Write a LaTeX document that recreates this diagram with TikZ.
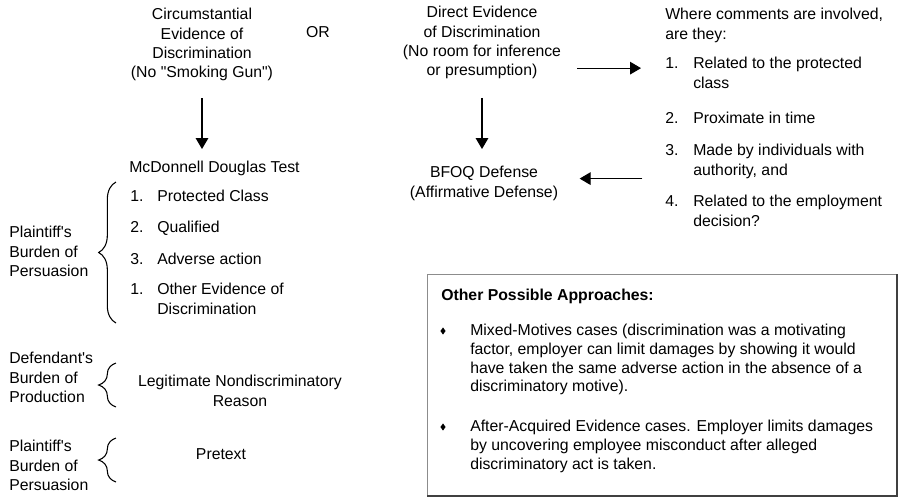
\documentclass[tikz,border=0pt]{standalone}
\usepackage{fontspec}
\setmainfont{Liberation Sans}
\usetikzlibrary{arrows.meta,decorations.pathreplacing,shapes.geometric}

\begin{document}
\begin{tikzpicture}[x=0.75pt,y=-0.75pt,
    every node/.style={inner sep=0pt,font=\fontsize{11.85}{14.5}\selectfont},
    txt/.style={align=center,anchor=north},
    lft/.style={align=left,anchor=north west},
    num/.style={anchor=north west},
    arr/.style={-{Triangle[length=8.25pt,width=9.5pt]},thick},
    brc/.style={decorate,decoration={brace,amplitude=13pt},thick},
    boxtxt/.style={align=left,anchor=north west,font=\fontsize{11.85}{14}\selectfont},
    bul/.style={diamond,fill,minimum width=4pt,minimum height=5.5pt}]
    \useasboundingbox (0,0) rectangle (899,497);

    % circumstantial side
    \node [txt] (circ) at (202,8)%
        {Circumstantial\\Evidence of\\Discrimination\\(No \textquotedbl Smoking Gun\textquotedbl)};
    \node (or) at (318,32) {OR};
    \node [lft] (mcd) at (129,161) {McDonnell Douglas Test};

    \node [num] (n1) at (130,190) {1.};
    \node [lft] (i1) at (157,190) {Protected Class};
    \node [num] (n2) at (130,221) {2.};
    \node [lft] (i2) at (157,221) {Qualified};
    \node [num] (n3) at (130,253) {3.};
    \node [lft] (i3) at (157,253) {Adverse action};
    \node [num] (n4) at (130,283) {1.};
    \node [lft] (i4) at (157,283) {Other Evidence of\\Discrimination};

    \node [lft] (pbp1) at (9,226)%
        {Plaintiff\textquotesingle s\\Burden of\\Persuasion};
    \node [lft] (dbp) at (9,352)%
        {Defendant\textquotesingle s\\Burden of\\Production};
    \node [lft] (pbp2) at (9,440)%
        {Plaintiff\textquotesingle s\\Burden of\\Persuasion};
    \node [txt] (legit) at (240,375) {Legitimate Nondiscriminatory\\Reason};
    \node [txt] (pretext) at (221,448) {Pretext};

    % braces
    \coordinate (b1a) at (116,323);
    \coordinate (b1b) at (116,182);
    \coordinate (b2a) at (116,407);
    \coordinate (b2b) at (116,363);
    \coordinate (b3a) at (116,482);
    \coordinate (b3b) at (116,438);
    \draw [brc] (b1a) -- (b1b);
    \draw [brc] (b2a) -- (b2b);
    \draw [brc] (b3a) -- (b3b);

    % direct side
    \node [txt] (direct) at (482,6)%
        {Direct Evidence\\of Discrimination\\(No room for inference\\or presumption)};
    \node [txt] (bfoq) at (484,166) {BFOQ Defense\\(Affirmative Defense)};

    \node [lft] (where) at (665,8) {Where comments are involved,\\are they:};
    \node [num] (c1num) at (665,57) {1.};
    \node [lft] (c1) at (693,57) {Related to the protected\\class};
    \node [num] (c2num) at (665,112) {2.};
    \node [lft] (c2) at (693,112) {Proximate in time};
    \node [num] (c3num) at (665,144) {3.};
    \node [lft] (c3) at (693,144) {Made by individuals with\\authority, and};
    \node [num] (c4num) at (665,195) {4.};
    \node [lft] (c4) at (693,195) {Related to the employment\\decision?};

    % arrows
    \draw [arr,shorten <=12.75pt,shorten >=9pt] (circ.south) -- (circ.south |- mcd.north);
    \draw [arr,shorten <=14pt,shorten >=12.75pt] (direct.south) -- (direct.south |- bfoq.north);
    \draw [arr,shorten <=12pt,shorten >=18pt] (direct.east |- c1num.base) -- (c1num.base west);
    \draw [arr,shorten <=17pt,shorten >=16pt] (c3num.west |- c3.south) -- (bfoq.east |- c3.south);

    % other approaches
    \draw [black!45] (427,496) -- (427,274) -- (897,274);
    \draw [black!75,line width=1pt] (897,274) -- (897,496) -- (427,496);
    \node [lft,font=\fontsize{11.85}{14.5}\selectfont\bfseries] (opa) at (441,289)%
        {Other Possible Approaches:};
    \node [bul] (d1) at (443,331) {};
    \node [boxtxt] (mm) at (470,324)%
        {Mixed-Motives cases (discrimination was a motivating\\factor, employer can limit damages by showing it would\\have taken the same adverse action in the absence of a\\discriminatory motive).};
    \node [bul] (d2) at (443,427) {};
    \node [boxtxt] (aa) at (470,420)%
        {After-Acquired Evidence cases. Employer limits damages\\by uncovering employee misconduct after alleged\\discriminatory act is taken.};
\end{tikzpicture}
\end{document}
